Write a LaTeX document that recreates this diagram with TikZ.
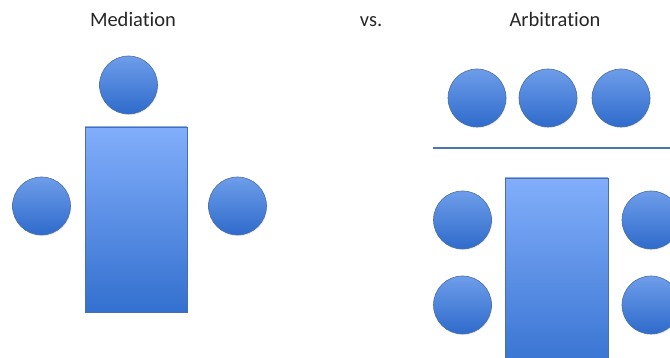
\documentclass[tikz,border=0pt]{standalone}
\usepackage{fontspec}
\setmainfont{Carlito}[Ligatures=NoCommon]
\usetikzlibrary{shadows}
\definecolor{disctop}{HTML}{6E9DEA}
\definecolor{discbot}{HTML}{2E6BCB}
\definecolor{tabletop}{HTML}{82AEFB}
\definecolor{tablebot}{HTML}{3370CF}
\definecolor{edge}{HTML}{4A6FA5}
\definecolor{rule}{HTML}{4A76B5}
\tikzset{
  party/.style={
    circle,
    minimum size=58pt,
    inner sep=0pt,
    draw=edge,
    line width=0.6pt,
    top color=disctop,
    bottom color=discbot,
    drop shadow={opacity=0.15, shadow xshift=0.8pt, shadow yshift=-1.2pt}
    },
  table/.style={
    rectangle,
    inner sep=0pt,
    draw=edge,
    line width=0.6pt,
    top color=tabletop,
    bottom color=tablebot,
    drop shadow={opacity=0.15, shadow xshift=0.8pt, shadow yshift=-1.2pt}
    },
  heading/.style={anchor=base, inner sep=0pt, font=\fontsize{20.5}{24}\selectfont, text=black!85},
  divider/.style={draw=rule, line width=2pt},
}

\begin{document}
\begin{tikzpicture}[x=1pt, y=-1pt]
\useasboundingbox (0,0) rectangle (670,358);
\clip (0,0) rectangle (670,358);

\node (med) [heading] at (133,27) {Mediation};
\node (vs) [heading] at (371,27) {vs.};
\node (arb) [heading] at (555,27) {Arbitration};

% mediation
\node (medtable) [table, minimum width=102pt, minimum height=185pt] at (136,219.5) {};
\node (medtop) [party] at (128.5,85) {};
\node (medleft) [party] at (41.5,206) {};
\node (medright) [party] at (237.5,206) {};

% arbitration
\node (panel1) [party] at (477,98) {};
\node (panel2) [party] at (548,98) {};
\node (panel3) [party] at (621,98) {};
\coordinate (ruleL) at (433,148);
\coordinate (ruleR) at (672,148);
\draw [divider] (ruleL) -- (ruleR);
\node (arbtable) [table, minimum width=103pt, minimum height=200pt] at (556.5,278) {};
\node (arbleft1) [party] at (462.5,220) {};
\node (arbleft2) [party] at (462.5,305) {};
\node (arbright1) [party] at (651,220) {};
\node (arbright2) [party] at (651,305) {};

\end{tikzpicture}
\end{document}
